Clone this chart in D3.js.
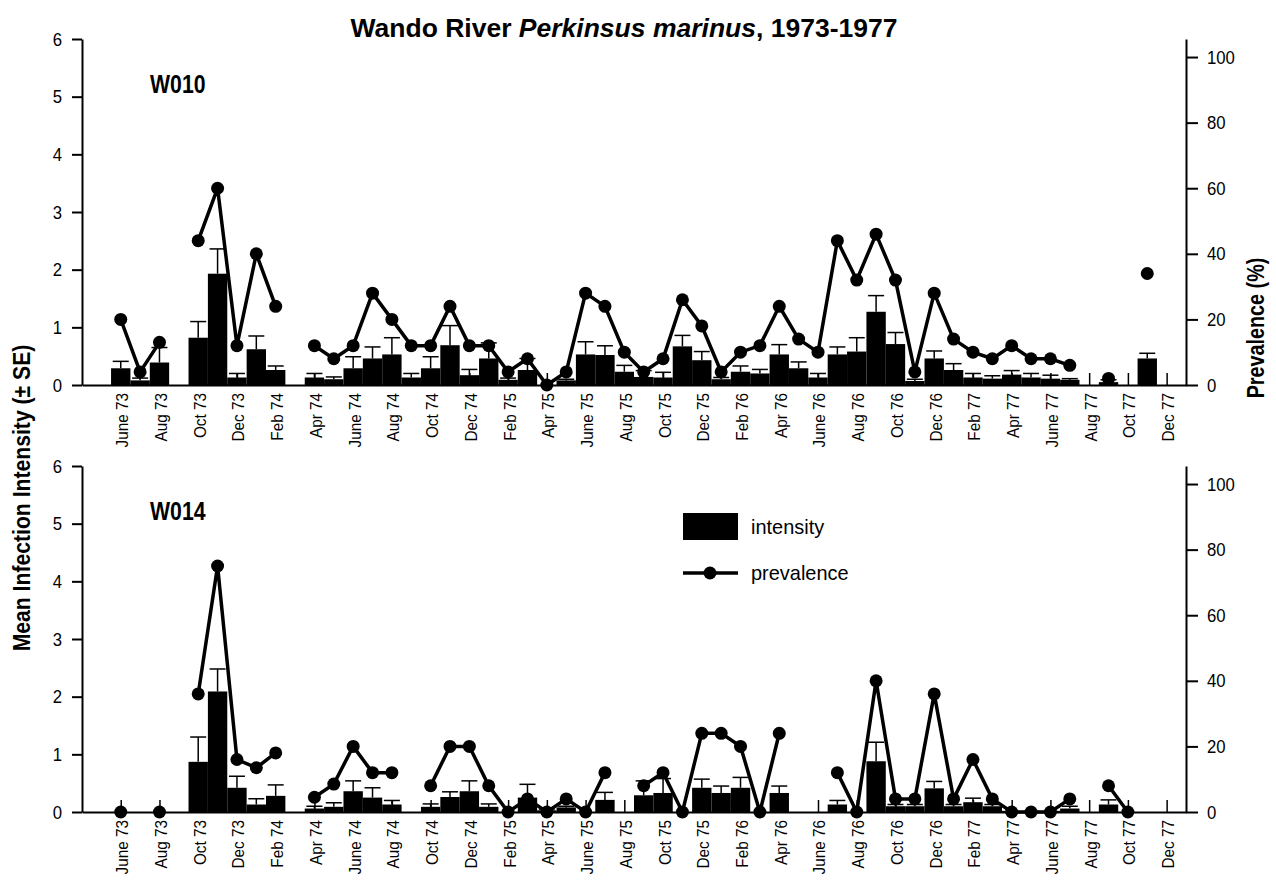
<!DOCTYPE html>
<html>
<head>
<meta charset="utf-8">
<script src="https://cdn.jsdelivr.net/npm/d3@7"></script>
<style>
  body { margin: 0; background: #fff; }
  svg text { font-family: "Liberation Sans Narrow", "Arial Narrow", "Liberation Sans", sans-serif; fill: #000; }
</style>
</head>
<body>
<svg id="chart" width="1276" height="884"></svg>
<script>
// months counted from June 1973 (0) to Dec 1977 (54); null = no sample
const tickLabels = ["June 73","Aug 73","Oct 73","Dec 73","Feb 74","Apr 74","June 74","Aug 74","Oct 74","Dec 74",
  "Feb 75","Apr 75","June 75","Aug 75","Oct 75","Dec 75","Feb 76","Apr 76","June 76","Aug 76","Oct 76","Dec 76",
  "Feb 77","Apr 77","June 77","Aug 77","Oct 77","Dec 77"];

const w010Intensity = [0.29,0.08,0.39,null,0.82,1.93,0.13,0.62,0.26,null,0.13,0.10,0.29,0.46,0.53,0.13,0.29,0.69,0.17,0.46,
  0.09,0.26,0,0.08,0.53,0.52,0.23,0.14,0.13,0.67,0.43,0.10,0.23,0.20,0.53,0.29,0.13,0.53,0.58,1.27,
  0.71,0.07,0.46,0.26,0.13,0.11,0.18,0.13,0.11,0.09,null,0.05,null,0.46,null];
const w010SE = [0.12,0.04,0.26,null,0.28,0.43,0.07,0.23,0.07,null,0.07,0.04,0.20,0.20,0.29,0.07,0.20,0.34,0.10,0.27,
  0.03,0.20,0,0.02,0.22,0.16,0.11,0.11,0.09,0.19,0.15,0.03,0.10,0.07,0.17,0.11,0.07,0.13,0.24,0.28,
  0.20,0.03,0.13,0.11,0.07,0.05,0.07,0.07,0.06,0.02,null,0.04,null,0.09,null];
const w010Prevalence = [20,4,13,null,44,60,12,40,24,null,12,8,12,28,20,12,12,24,12,12,
  4,8,0,4,28,24,10,4,8,26,18,4,10,12,24,14,10,44,32,46,
  32,4,28,14,10,8,12,8,8,6,null,2,null,34,null];

const w014Intensity = [0,null,0,null,0.87,2.09,0.42,0.13,0.28,null,0.06,0.09,0.36,0.25,0.13,null,0.09,0.26,0.36,0.09,
  0,0.25,0.03,0.08,0,0.21,null,0.29,0.33,0,0.42,0.33,0.42,0,0.33,null,null,0.13,0,0.88,
  0.10,0.10,0.41,0.10,0.17,0.10,0.02,0.02,0.02,0.06,null,0.13,0,null,null];
const w014SE = [0,null,0,null,0.43,0.39,0.20,0.10,0.19,null,0.04,0.07,0.18,0.17,0.07,null,0.05,0.09,0.18,0.05,
  0,0.23,0.02,0.02,0,0.13,null,0.25,0.25,0,0.15,0.12,0.18,0,0.12,null,null,0.07,0,0.33,
  0.03,0.03,0.12,0.03,0.07,0.03,0,0,0,0.04,null,0.08,0,null,null];
const w014Prevalence = [0,null,0,null,36,75,16,13.5,18,null,4.5,8.5,20,12,12,null,8,20,20,8,
  0,4,0,4,0,12,null,8,12,0,24,24,20,0,24,null,null,12,0,40,
  4,4,36,4,16,4,0,0,0,4,null,8,0,null,null];

const panels = [
  {name: "W010", intensity: w010Intensity, se: w010SE, prevalence: w010Prevalence, top: 39, bottom: 385},
  {name: "W014", intensity: w014Intensity, se: w014SE, prevalence: w014Prevalence, top: 466, bottom: 812}
];

const svg = d3.select("#chart");
const left = 82, right = 1186;

// squeeze text horizontally to mimic the narrow face of the original
function condense(sel, f) {
  sel.each(function() {
    const len = this.getComputedTextLength();
    d3.select(this).attr("textLength", len * f).attr("lengthAdjust", "spacingAndGlyphs");
  });
}

const xScale = d3.scaleLinear().domain([-2, 55]).range([left, right]);
const bw = xScale(1) - xScale(0);
const tickMonths = tickLabels.map((d, i) => i * 2);

svg.append("text")
  .attr("x", 624).attr("y", 37)
  .attr("text-anchor", "middle")
  .style("font-size", "26.5px").style("font-weight", "bold")
  .call(t => {
    t.append("tspan").text("Wando River ");
    t.append("tspan").style("font-style", "italic").text("Perkinsus marinus");
    t.append("tspan").text(", 1973-1977");
  });

svg.append("text")
  .attr("transform", "translate(30,498) rotate(-90)")
  .attr("text-anchor", "middle")
  .style("font-size", "23px").style("font-weight", "bold")
  .text("Mean Infection Intensity (± SE)")
  .call(condense, 0.92);

svg.append("text")
  .attr("transform", "translate(1264,328) rotate(-90)")
  .attr("text-anchor", "middle")
  .style("font-size", "23px").style("font-weight", "bold")
  .text("Prevalence (%)")
  .call(condense, 0.86);

panels.forEach(p => {
  const yScale = d3.scaleLinear().domain([0, 6]).range([p.bottom, p.top]);
  const pScale = d3.scaleLinear().domain([0, 105.5]).range([p.bottom, p.top]);
  const g = svg.append("g");

  const rows = p.intensity.map((v, i) => ({m: i, v: v, se: p.se[i], pr: p.prevalence[i]}));

  // bars
  g.selectAll(".bar")
    .data(rows.filter(d => d.v != null && d.v > 0))
    .join("rect")
    .attr("class", "bar")
    .attr("x", d => xScale(d.m) - bw / 2)
    .attr("width", bw)
    .attr("y", d => yScale(d.v))
    .attr("height", d => p.bottom - yScale(d.v))
    .attr("fill", "#000");

  // error bars
  const eb = rows.filter(d => d.se != null && d.se > 0);
  g.selectAll(".err")
    .data(eb)
    .join("line")
    .attr("x1", d => xScale(d.m)).attr("x2", d => xScale(d.m))
    .attr("y1", d => yScale(d.v)).attr("y2", d => yScale(d.v + d.se))
    .attr("stroke", "#000").attr("stroke-width", 1.5);
  g.selectAll(".cap")
    .data(eb)
    .join("line")
    .attr("x1", d => xScale(d.m) - 8).attr("x2", d => xScale(d.m) + 8)
    .attr("y1", d => yScale(d.v + d.se)).attr("y2", d => yScale(d.v + d.se))
    .attr("stroke", "#000").attr("stroke-width", 1.5);

  // x axis, ticks pointing up
  const xAxis = d3.axisBottom(xScale)
    .tickValues(tickMonths)
    .tickFormat((d, i) => tickLabels[i])
    .tickSize(-12)
    .tickSizeOuter(0);
  const xg = g.append("g")
    .attr("transform", `translate(0,${p.bottom})`)
    .call(xAxis);
  xg.select(".domain").attr("stroke-width", 2);
  xg.selectAll(".tick line").attr("stroke-width", 1.5);
  xg.selectAll("text")
    .attr("transform", "rotate(-90)")
    .attr("x", -8).attr("y", 1).attr("dy", "0.35em")
    .style("text-anchor", "end")
    .style("font-size", "17px")
    .call(condense, 0.9);

  const yAxis = d3.axisLeft(yScale).ticks(6).tickSize(10).tickPadding(10).tickSizeOuter(0);
  const yg = g.append("g").attr("transform", `translate(${left},0)`).call(yAxis);
  yg.select(".domain").attr("stroke-width", 2);
  yg.selectAll(".tick line").attr("stroke-width", 2);
  yg.selectAll("text").style("font-size", "19px").call(condense, 0.88);

  const rAxis = d3.axisRight(pScale).tickValues([0, 20, 40, 60, 80, 100]).tickSize(12).tickPadding(9).tickSizeOuter(0);
  const rg = g.append("g").attr("transform", `translate(${right},0)`).call(rAxis);
  rg.select(".domain").attr("stroke-width", 2);
  rg.selectAll(".tick line").attr("stroke-width", 2);
  rg.selectAll("text").style("font-size", "19px").call(condense, 0.88);

  // prevalence line
  const line = d3.line()
    .defined(d => d.pr != null)
    .x(d => xScale(d.m))
    .y(d => pScale(d.pr));
  g.append("path")
    .datum(rows)
    .attr("d", line)
    .attr("fill", "none")
    .attr("stroke", "#000")
    .attr("stroke-width", 3.5);
  g.selectAll(".dot")
    .data(rows.filter(d => d.pr != null))
    .join("circle")
    .attr("cx", d => xScale(d.m))
    .attr("cy", d => pScale(d.pr))
    .attr("r", 6.5)
    .attr("fill", "#000");

  g.append("text")
    .attr("x", 150).attr("y", p.top + 54)
    .style("font-size", "25px").style("font-weight", "bold")
    .text(p.name)
    .call(condense, 0.85);
});

// legend
const lg = svg.append("g");
lg.append("rect").attr("x", 683).attr("y", 513).attr("width", 55).attr("height", 27).attr("fill", "#000");
lg.append("text").attr("x", 751).attr("y", 534).style("font-size", "21px").text("intensity").call(condense, 0.95);
lg.append("line").attr("x1", 683).attr("x2", 738).attr("y1", 573).attr("y2", 573)
  .attr("stroke", "#000").attr("stroke-width", 3.5);
lg.append("circle").attr("cx", 710).attr("cy", 573).attr("r", 6.5).attr("fill", "#000");
lg.append("text").attr("x", 751).attr("y", 580).style("font-size", "21px").text("prevalence").call(condense, 0.95);
</script>
</body>
</html>
